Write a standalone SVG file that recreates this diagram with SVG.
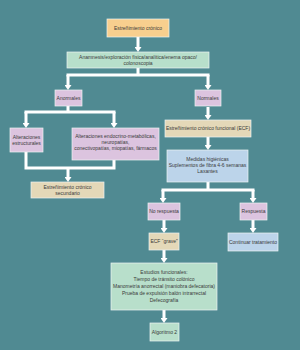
<svg xmlns="http://www.w3.org/2000/svg" width="300" height="350" viewBox="0 0 300 350">
<defs>
<marker id="ah" viewBox="0 0 5 7" refX="0" refY="3.5" markerWidth="5" markerHeight="7" markerUnits="userSpaceOnUse" orient="auto">
<path d="M0,0 L5,3.5 L0,7 z" fill="#ffffff"/>
</marker>
<style>
.box{stroke:#eef3f2;stroke-width:0.7}
.or{fill:#f8cf8e}
.gr{fill:#b8dfcb}
.pu{fill:#dcc4df}
.be{fill:#e4d8b8}
.bl{fill:#bcd4ea}
text{font-family:"Liberation Sans",Arial,sans-serif;font-size:5px;fill:#3a3a3a;text-anchor:middle}
.ln{fill:none;stroke:#ffffff;stroke-width:3}
.ar{fill:none;stroke:#ffffff;stroke-width:3;marker-end:url(#ah)}
</style>
</defs>
<rect width="300" height="350" fill="#508a92"/>
<g id="connectors">
<path class="ar" d="M138,37 V47"/>
<path class="ln" d="M138,68 V75 M66.5,75 H209.5"/>
<path class="ar" d="M68,75 V85"/>
<path class="ar" d="M208,75 V85"/>
<path class="ln" d="M68,106 V112 M24.5,112 H115.5"/>
<path class="ar" d="M26,112 V123"/>
<path class="ar" d="M114,112 V123"/>
<path class="ln" d="M26,152 V168 M114,160 V168 M24.5,168 H115.5"/>
<path class="ar" d="M68,168 V177"/>
<path class="ar" d="M208,107 V115"/>
<path class="ar" d="M208,137 V145"/>
<path class="ln" d="M208,182 V190 M161.5,190 H254.5"/>
<path class="ar" d="M163,190 V198"/>
<path class="ar" d="M253,190 V198"/>
<path class="ar" d="M164,220 V228"/>
<path class="ar" d="M253,220 V228"/>
<path class="ar" d="M164,250 V258"/>
<path class="ar" d="M164,310 V318"/>
</g>
<g id="n1"><rect class="box or" x="107" y="19" width="62" height="18"/><text x="138" y="29.8">Estreñimiento crónico</text></g>
<g id="n2"><rect class="box gr" x="67" y="52" width="142" height="16"/><text x="138" y="59">Anamnesis/exploración física/analítica/enema opaco/</text><text x="138" y="65">colonoscopia</text></g>
<g id="n3"><rect class="box pu" x="55" y="90" width="27" height="16"/><text x="68.5" y="99.8">Anormales</text></g>
<g id="n4"><rect class="box pu" x="195" y="90" width="26" height="16"/><text x="208" y="99.8">Normales</text></g>
<g id="n5"><rect class="box pu" x="10" y="128" width="33" height="24"/><text x="26.5" y="138.5">Alteraciones</text><text x="26.5" y="144.5">estructurales</text></g>
<g id="n6"><rect class="box pu" x="72" y="128" width="87" height="32"/><text x="115.5" y="138">Alteraciones endocrino-metabólicas,</text><text x="115.5" y="144">neuropatías,</text><text x="115.5" y="150">conectivopatías, miopatías, fármacos</text></g>
<g id="n7"><rect class="box be" x="31" y="182" width="73" height="16"/><text x="67.5" y="189">Estreñimiento crónico</text><text x="67.5" y="195">secundario</text></g>
<g id="n8"><rect class="box be" x="165" y="120" width="86" height="17"/><text x="208" y="130.3">Estreñimiento crónico funcional (ECF)</text></g>
<g id="n9"><rect class="box bl" x="167" y="150" width="81" height="32"/><text x="207.5" y="161">Medidas higiénicas</text><text x="207.5" y="167">Suplementos de fibra 4-6 semanas</text><text x="207.5" y="173">Laxantes</text></g>
<g id="n10"><rect class="box pu" x="148" y="203" width="32" height="17"/><text x="164" y="213.3">No respuesta</text></g>
<g id="n11"><rect class="box pu" x="240" y="203" width="27" height="17"/><text x="253.5" y="213.3">Respuesta</text></g>
<g id="n12"><rect class="box be" x="149" y="233" width="30" height="17"/><text x="164" y="243.3">ECF “grave”</text></g>
<g id="n13"><rect class="box bl" x="228" y="233" width="50" height="18"/><text x="253" y="243.8">Continuar tratamiento</text></g>
<g id="n14"><rect class="box gr" x="111" y="263" width="106" height="47"/><text x="164" y="273.5">Estudios funcionales:</text><text x="164" y="280.5">Tiempo de tránsito colónico</text><text x="164" y="287.5">Manometría anorrectal (maniobra defecatoria)</text><text x="164" y="294.5">Prueba de expulsión balón intrarrectal</text><text x="164" y="301.5">Defecografía</text></g>
<g id="n15"><rect class="box gr" x="150" y="323" width="29" height="18"/><text x="164.5" y="333.8">Algoritmo 2</text></g>
</svg>
